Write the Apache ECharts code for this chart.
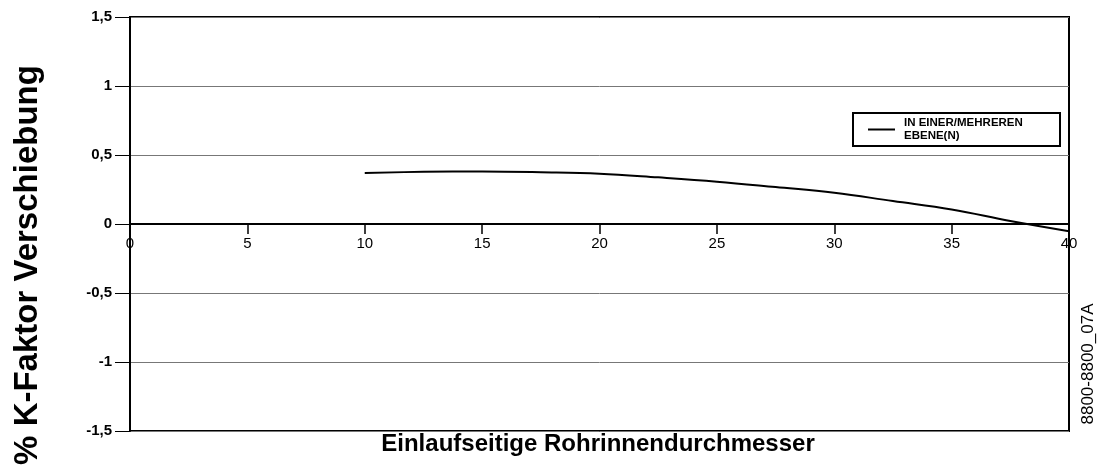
<!DOCTYPE html>
<html>
<head>
<meta charset="utf-8">
<script src="https://cdn.jsdelivr.net/npm/echarts@6/dist/echarts.min.js"></script>
<style>
  html, body { margin: 0; padding: 0; background: #fff; }
  #chart { width: 1098px; height: 470px; }
</style>
</head>
<body>
<div id="chart"></div>
<script>
  // Rohrinnendurchmesser (x) und K-Faktor Verschiebung in % (y)
  const diameters = [10, 12.5, 15, 17.5, 20, 22.5, 25, 27.5, 30, 32.5, 35, 37.5, 40];
  const kShift = [0.37, 0.378, 0.38, 0.375, 0.365, 0.338, 0.307, 0.268, 0.227, 0.166, 0.105, 0.022, -0.052];
  const seriesName = 'IN EINER/MEHREREN\nEBENE(N)';
  const xTitle = 'Einlaufseitige Rohrinnendurchmesser';
  const yTitle = '% K-Faktor Verschiebung';
  const docCode = '8800-8800_07A';

  const font = '"Liberation Sans", Arial, sans-serif';
  const chart = echarts.init(document.getElementById('chart'));

  chart.setOption({
    animation: false,
    backgroundColor: '#fff',
    textStyle: {fontFamily: font, color: '#000'},
    grid: {
      left: 130, right: 29, top: 17, bottom: 39,
      show: true, borderColor: '#000', borderWidth: 2
    },
    legend: {
      left: 853, top: 113,
      orient: 'vertical',
      borderColor: '#000', borderWidth: 2, borderRadius: 0,
      padding: [4, 36, 4, 15],
      itemWidth: 27, itemHeight: 2,
      textStyle: {
        fontFamily: font, fontWeight: 'bold', fontSize: 11.5,
        lineHeight: 12.5, color: '#000', width: 120,
        padding: [0, 0, 0, 4]
      },
      data: [{name: seriesName, icon: 'rect', itemStyle: {color: '#000'}}]
    },
    xAxis: {
      type: 'value',
      min: 0, max: 40, interval: 5,
      position: 'bottom',
      offset: -207, // Achse liegt auf y = 0
      axisLine: {onZero: false, lineStyle: {color: '#000', width: 2}},
      axisTick: {length: 10, lineStyle: {color: '#000', width: 1.5}},
      axisLabel: {
        color: '#000', fontSize: 15, margin: 12, fontFamily: font,
        showMinLabel: true, showMaxLabel: true
      },
      splitLine: {show: false}
    },
    yAxis: {
      type: 'value',
      min: -1.5, max: 1.5, interval: 0.5,
      axisLine: {lineStyle: {color: '#000', width: 2}},
      axisTick: {length: 15, lineStyle: {color: '#000', width: 1}},
      axisLabel: {
        color: '#000', fontSize: 15, fontWeight: 'bold', margin: 18, fontFamily: font,
        formatter: v => String(v).replace('.', ',')
      },
      splitLine: {lineStyle: {color: '#777', width: 1}}
    },
    series: [{
      name: seriesName,
      type: 'line',
      data: diameters.map((d, i) => [d, kShift[i]]),
      smooth: 0.4,
      symbol: 'none',
      lineStyle: {color: '#000', width: 2},
      itemStyle: {color: '#000'}
    }],
    graphic: [
      {
        type: 'text', x: 28, y: 265, rotation: Math.PI / 2,
        style: {
          text: yTitle, font: 'bold 33px ' + font, fill: '#000',
          textAlign: 'center', textVerticalAlign: 'middle'
        }
      },
      {
        type: 'text', x: 598, y: 444,
        style: {
          text: xTitle, font: 'bold 24px ' + font, fill: '#000',
          textAlign: 'center', textVerticalAlign: 'middle'
        }
      },
      {
        type: 'text', x: 1088, y: 364, rotation: Math.PI / 2,
        style: {
          text: docCode, font: '17px ' + font, fill: '#000',
          textAlign: 'center', textVerticalAlign: 'middle'
        }
      }
    ]
  });
</script>
</body>
</html>
